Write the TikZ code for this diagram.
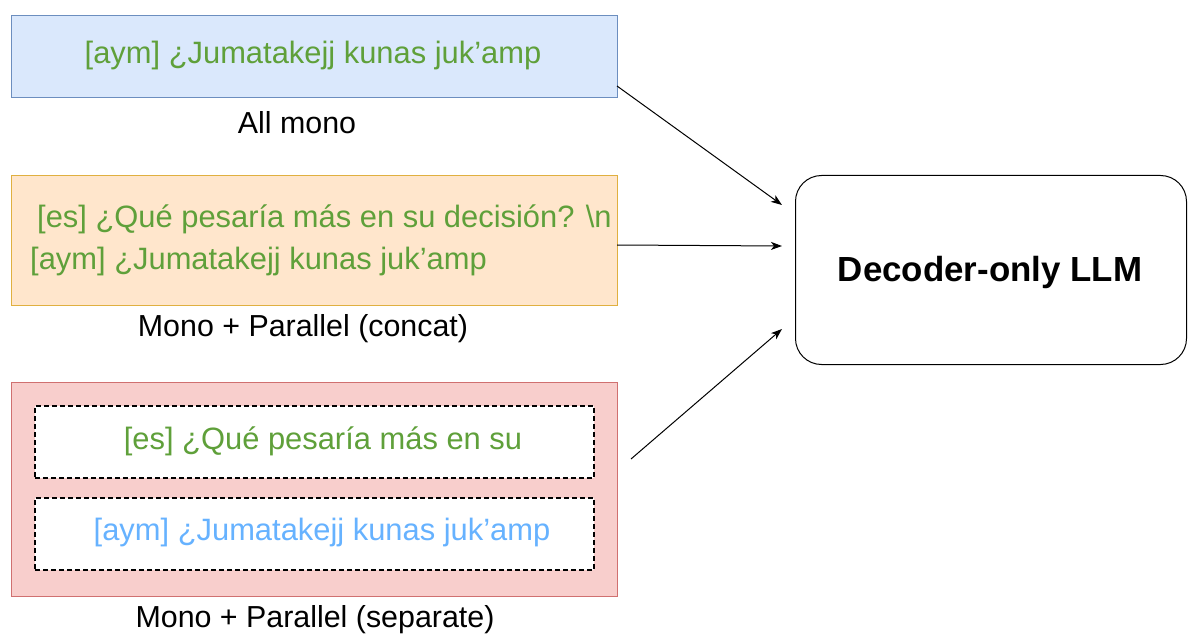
\documentclass[tikz,border=0pt]{standalone}
\usepackage{fontspec}
\setmainfont{Liberation Sans}
\usetikzlibrary{arrows.meta}
\definecolor{txtgreen}{HTML}{5FA03A}
\definecolor{txtblue}{HTML}{66B2FF}
\definecolor{bluefill}{HTML}{DAE8FC}
\definecolor{bluedraw}{HTML}{6C8EBF}
\definecolor{orfill}{HTML}{FFE6CC}
\definecolor{ordraw}{HTML}{E0B040}
\definecolor{redfill}{HTML}{F8CECC}
\definecolor{reddraw}{HTML}{D07070}
\begin{document}
\begin{tikzpicture}[x=1bp,y=-1bp,
  panel/.style={draw, line width=1bp, minimum width=606bp, inner sep=0pt, anchor=north west},
  inner/.style={draw, line width=1.6bp, dash pattern=on 5bp off 3bp, fill=white, minimum width=559bp, minimum height=72bp, inner sep=0pt, anchor=north west},
  lbl/.style={font=\fontsize{30.5}{36}\selectfont, text=black, inner sep=0pt},
  txt/.style={font=\fontsize{31}{36}\selectfont, inner sep=0pt},
  arr/.style={-{Stealth[length=11bp,width=8bp,inset=3bp]}, line width=1bp}
]
\useasboundingbox (0,0) rectangle (1196,642);
% blue panel
\node[panel, fill=bluefill, draw=bluedraw, minimum height=82bp] (mono) at (11,15) {};
\node[txt, text=txtgreen] (monotxt) at (313,56) {[aym] ¿Jumatakejj kunas juk’amp};
\node[lbl] (monolbl) at (297,123) {All mono};
% orange panel
\node[panel, fill=orfill, draw=ordraw, minimum height=130bp] (concat) at (11,175) {};
\node[txt, text=txtgreen, anchor=west, align=left, font=\fontsize{31}{42}\selectfont] (concattxt) at (30,240) {\hspace{7bp}[es] ¿Qué pesaría más en su decisión? \textbackslash n\\\relax [aym] ¿Jumatakejj kunas juk’amp};
\node[lbl] (concatlbl) at (303,329) {Mono + Parallel (concat)};
% red panel
\node[panel, fill=redfill, draw=reddraw, minimum height=214bp] (sep) at (11,382) {};
\node[inner] (es) at (34,405) {};
\node[txt, text=txtgreen] (estxt) at (323,441) {[es] ¿Qué pesaría más en su};
\node[inner] (aym) at (34,497) {};
\node[txt, text=txtblue] (aymtxt) at (322,533) {[aym] ¿Jumatakejj kunas juk’amp};
\node[lbl] (seplbl) at (315,620) {Mono + Parallel (separate)};
% LLM
\node[draw, line width=1bp, rounded corners=26bp, minimum width=391bp, minimum height=189bp, anchor=north west, inner sep=0pt] (llm) at (795,175) {};
\node[font=\fontsize{35}{40}\selectfont\bfseries, inner sep=0pt] (llmtxt) at (990,272) {Decoder-only LLM};
% connectors
\coordinate (s1) at (617,86);
\coordinate (s2) at (617,245);
\coordinate (s3) at (631,459);
\coordinate (e1) at (782,205);
\coordinate (e2) at (782,246);
\coordinate (e3) at (782,329);
\draw[arr] (s1) -- (e1);
\draw[arr] (s2) -- (e2);
\draw[arr] (s3) -- (e3);
\end{tikzpicture}
\end{document}
